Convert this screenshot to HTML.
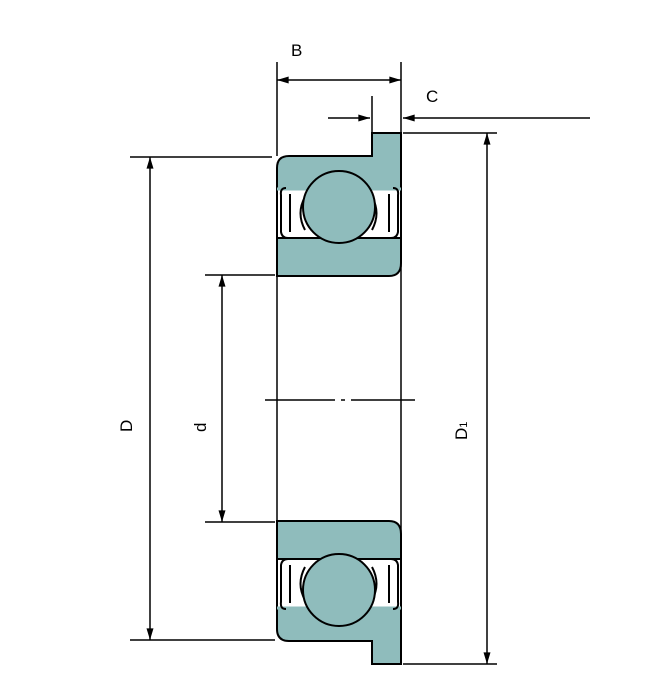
<!DOCTYPE html>
<html><head><style>body{margin:0;background:#fff}</style></head><body>
<svg width="660" height="675" viewBox="0 0 660 675" xmlns="http://www.w3.org/2000/svg" font-family="Liberation Sans, sans-serif">
<defs>
<marker id="a" viewBox="0 0 10 6" refX="10" refY="3" markerWidth="14" markerHeight="7" markerUnits="userSpaceOnUse" orient="auto-start-reverse"><path d="M0,0L10,3L0,6z" fill="#000"/></marker>
<g id="brg">
<path d="M372,133H401V238H277V168Q277,156 289,156H372Z" fill="#8fbcbc" stroke="#000" stroke-width="2"/>
<path d="M277,190H401V238H277Z" fill="#fff" stroke="none"/>
<path d="M277,238H401V263Q401,276 389,276H277Z" fill="#8fbcbc" stroke="#000" stroke-width="2"/>
<path d="M277,190V238M401,190V238" stroke="#000" stroke-width="2"/>
<path d="M277,189H401" stroke="#8fbcbc" stroke-width="3"/>
<path d="M286,188Q280,188 281,195V232Q282,238 288,238M290,194V232M393,188Q399,188 398,195V232Q397,238 391,238M389,194V232" fill="none" stroke="#000" stroke-width="2"/>
<path d="M305,197Q296,213 305,230M372,197Q381,213 372,230" fill="none" stroke="#000" stroke-width="2"/>
<circle cx="339" cy="207" r="36" fill="#8fbcbc" stroke="#000" stroke-width="2"/>
</g>
</defs>
<use href="#brg"/>
<use href="#brg" transform="translate(0,797) scale(1,-1)"/>
<g stroke="#000" stroke-width="1.5" fill="none">
<path d="M277,62V156M401,62V133M277,276V521M401,238V559"/>
<path d="M277,80H401" marker-start="url(#a)" marker-end="url(#a)"/>
<path d="M328,118H370" marker-end="url(#a)"/>
<path d="M372,96V133"/>
<path d="M590,118H403" marker-end="url(#a)"/>
<path d="M403,133H497M403,664H497"/>
<path d="M487,133V664" marker-start="url(#a)" marker-end="url(#a)"/>
<path d="M130,157H272M130,640H275"/>
<path d="M150,157V640" marker-start="url(#a)" marker-end="url(#a)"/>
<path d="M205,275H275M205,522H275"/>
<path d="M222,275V522" marker-start="url(#a)" marker-end="url(#a)"/>
<path d="M265,400H335M341,400H345M351,400H415"/>
</g>
<g font-size="17" fill="#000">
<text x="291" y="56">B</text>
<text x="426" y="102">C</text>
<text transform="translate(132,432) rotate(-90)">D</text>
<text transform="translate(206,432) rotate(-90)">d</text>
<text transform="translate(467,440) rotate(-90)">D<tspan font-size="11" dy="0">1</tspan></text>
</g>
</svg>
</body></html>
